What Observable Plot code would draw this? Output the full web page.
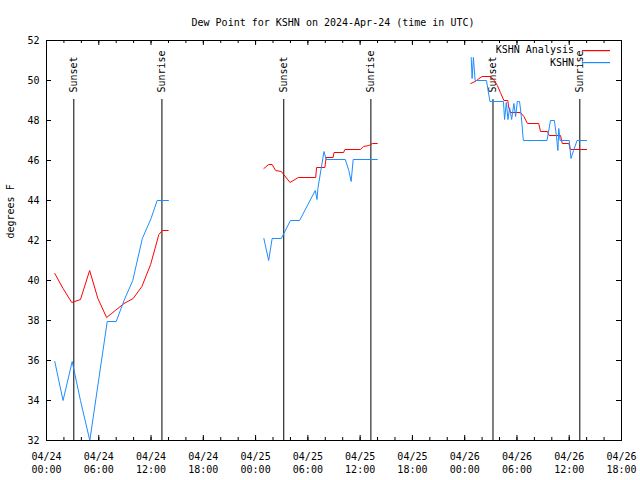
<!DOCTYPE html>
<html><head><meta charset="utf-8">
<script src="https://cdn.jsdelivr.net/npm/d3@7"></script>
<script src="https://cdn.jsdelivr.net/npm/@observablehq/plot@0.6"></script>
<style>body{margin:0;background:#fff} svg{display:block}</style>
</head><body><div id="chart"></div>
<script>
const titleText = "Dew Point for KSHN on 2024-Apr-24 (time in UTC)";
const yLabel = "degrees F";
const startISO = "2024-04-24T00:00:00Z";
const endISO = "2024-04-26T18:00:00Z";
const seriesNames = ["KSHN Analysis", "KSHN"];
const seriesColors = ["#ff0000", "#1e8cff"];

// [hours since 2024-04-24 00:00 UTC, dew point °F]
const analysisDay1 = [[0.95,40.35],[1.9,39.6],[2.9,38.9],[3.9,39.05],[4.95,40.5],[5.9,39.1],[6.9,38.15],[7.9,38.5],[8.9,38.85],[9.95,39.1],[10.95,39.7],[11.95,40.8],[12.9,42.3],[13.3,42.5],[13.97,42.5]];
const analysisDay2 = [[24.95,45.6],[25.5,45.8],[25.9,45.8],[26.3,45.5],[26.95,45.45],[27.95,44.9],[28.9,45.15],[30.9,45.15],[31.0,45.65],[31.95,45.65],[32.1,46.15],[32.9,46.15],[33.0,46.4],[34.1,46.4],[34.25,46.55],[36.05,46.55],[36.4,46.7],[37.0,46.75],[37.4,46.85],[37.97,46.85]];
const analysisDay3 = [[48.7,49.85],[49.2,49.95],[49.5,50.05],[50.0,50.2],[51.0,50.2],[51.4,50.0],[51.75,49.75],[52.1,49.4],[52.5,49.0],[52.95,49.0],[53.05,48.65],[53.25,48.4],[54.4,48.4],[54.8,48.2],[55.2,47.85],[56.5,47.85],[56.7,47.45],[57.5,47.45],[57.7,47.25],[59.0,47.25],[59.2,46.85],[59.95,46.85],[60.15,46.55],[62.0,46.55]];
const obsDay1 = [[0.95,35.95],[1.9,34.0],[2.95,35.95],[3.9,34.0],[4.97,32.0],[6.97,37.95],[8.0,37.95],[8.9,39.0],[9.9,40.0],[11.0,42.1],[12.0,43.1],[12.7,44.0],[14.0,44.0]];
const obsDay2 = [[24.95,42.1],[25.5,41.0],[25.9,42.1],[26.95,42.1],[28.0,43.0],[29.05,43.0],[30.85,44.5],[31.05,44.05],[31.15,44.6],[31.85,46.45],[32.1,46.05],[34.3,46.05],[34.7,45.5],[34.97,44.95],[35.2,46.05],[37.97,46.05]];
const obsDay3 = [[48.75,51.15],[48.85,50.1],[49.0,51.15],[49.2,50.0],[50.5,50.0],[50.9,48.95],[52.45,48.95],[52.58,48.05],[52.78,48.9],[52.97,48.05],[53.16,48.65],[53.39,48.05],[53.65,48.85],[53.85,48.2],[54.04,48.95],[54.3,48.95],[54.5,48.2],[54.73,47.0],[57.45,47.0],[57.85,48.0],[58.3,48.0],[58.55,47.15],[58.7,46.5],[58.8,47.6],[58.95,47.0],[60.0,47.0],[60.2,46.1],[60.5,46.5],[60.9,47.0],[62.0,47.0]];

const eventLabels = ["Sunset","Sunrise","Sunset","Sunrise","Sunset","Sunrise"];
const eventTimes = ["2024-04-24T03:08Z","2024-04-24T13:15Z","2024-04-25T03:14Z","2024-04-25T13:14Z","2024-04-26T03:15Z","2024-04-26T13:13Z"];
const yTicks = [32,34,36,38,40,42,44,46,48,50,52];

const start = new Date(startISO), end = new Date(endISO);
const toDate = h => new Date(+start + h * 3600e3);
const rows = [];
[[analysisDay1, analysisDay2, analysisDay3], [obsDay1, obsDay2, obsDay3]].forEach((segs, si) => {
  segs.forEach((seg, k) => seg.forEach(([h, v]) => rows.push({time: toDate(h), value: v, series: seriesNames[si], seg: si + "-" + k})));
});
const events = eventLabels.map((l, i) => ({label: l, time: new Date(eventTimes[i])}));
const majorX = d3.utcHour.every(6).range(start, new Date(+end + 1));
const minorX = d3.utcHour.every(2).range(new Date(+start + 1), end);

const legend = (index, scales, values, dim) => {
  const g = d3.create("svg:g").attr("font-family", "DejaVu Sans Mono").attr("font-size", 10);
  const xr = dim.width - dim.marginRight;
  seriesNames.forEach((name, i) => {
    const ty = dim.marginTop + 10 + i * 13;
    const ly = dim.marginTop + 10 + i * 12;
    g.append("text").attr("x", xr - 47).attr("y", ty).attr("dy", "0.32em").attr("text-anchor", "end").style("fill", "black").text(name);
    g.append("rect").attr("x", xr - 39).attr("width", 28).attr("y", ly).attr("height", 1.2)
      .style("fill", seriesColors[i]).style("stroke", "none");
  });
  return g.node();
};

const chart = Plot.plot({
  width: 640, height: 480,
  marginLeft: 46, marginRight: 19, marginTop: 40, marginBottom: 40,
  style: {fontFamily: "DejaVu Sans Mono", fontSize: "10px", background: "white"},
  x: {type: "utc", domain: [start, end]},
  y: {domain: [32, 52]},
  color: {domain: seriesNames, range: seriesColors},
  marks: [
    Plot.ruleX(events, {x: "time", stroke: "black", strokeWidth: 1, insetTop: 59}),
    Plot.text(events, {x: "time", text: "label", frameAnchor: "top", dx: -4, dy: 52, rotate: -90, textAnchor: "start", fill: "black"}),
    Plot.line(rows, {x: "time", y: "value", z: "seg", stroke: "series", strokeWidth: 1, curve: "linear"}),
    Plot.tickX(majorX, {x: d => d, stroke: "black", insetTop: 395}),
    Plot.tickX(majorX, {x: d => d, stroke: "black", insetBottom: 395}),
    Plot.tickX(minorX, {x: d => d, stroke: "black", insetTop: 397}),
    Plot.tickX(minorX, {x: d => d, stroke: "black", insetBottom: 397}),
    Plot.tickY(yTicks, {y: d => d, stroke: "black", insetRight: 570}),
    Plot.tickY(yTicks, {y: d => d, stroke: "black", insetLeft: 570}),
    Plot.axisX(majorX, {tickSize: 0, tickPadding: 10, lineHeight: 1.3, tickFormat: d3.utcFormat("%m/%d\n%H:%M"), label: null}),
    Plot.axisY(yTicks, {tickSize: 0, tickPadding: 7, label: null}),
    Plot.frame({stroke: "black"}),
    Plot.text([titleText], {frameAnchor: "top", dx: -1, dy: -22, text: d => d, fill: "black"}),
    Plot.text([yLabel], {frameAnchor: "left", dx: -36, dy: -2, rotate: -90, text: d => d, fill: "black"}),
    legend
  ]
});
document.getElementById("chart").append(chart);
</script>
</body></html>
